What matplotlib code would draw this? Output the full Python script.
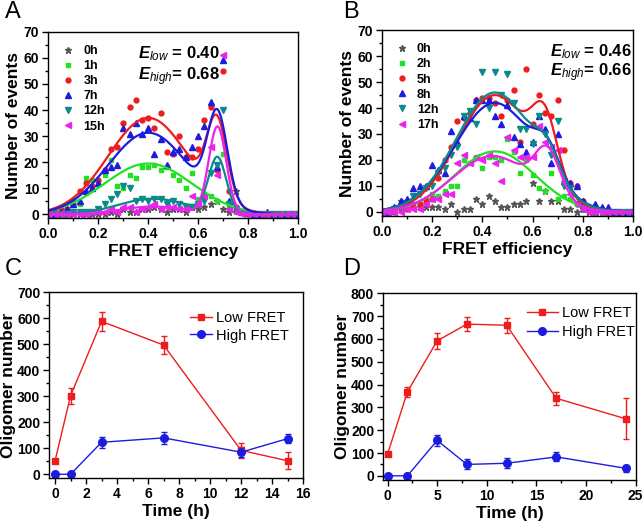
import numpy as np
import matplotlib
matplotlib.use('Agg')
import matplotlib.pyplot as plt
from matplotlib.ticker import MultipleLocator

plt.rcParams['font.family'] = ['Liberation Sans', 'DejaVu Sans']
plt.rcParams['mathtext.fontset'] = 'custom'
plt.rcParams['mathtext.rm'] = 'Liberation Sans:bold'
plt.rcParams['mathtext.it'] = 'Liberation Sans:italic'
plt.rcParams['mathtext.bf'] = 'Liberation Sans:bold'
plt.rcParams['mathtext.bfit'] = 'Liberation Sans:bold:italic'

# FRET histogram bins (0 to 1 in steps of 0.025)
fret_bins = np.linspace(0, 1, 41)

# ---- panel A : counts per bin ----
a_labels = ['0h', '1h', '3h', '7h', '12h', '15h']
a_0h = [0, 0, 0, 0, 0, 0, 0, 0, 0, 0, 1, 0, 2, 1, 1, 2, 2, 3, 2, 1, 2, 2, 1, 3, 2, 3, 4, 5, 2, 1, 9, 1, 1, 0, 0, 0, 0, 0, 0, 0, 0]
a_1h = [0, 0, 1, 2, 5, 4, 14, 13, 12, 15, 21, 11, 10, 15, 14, 18, 18, 19, 17, 18, 15, 13, 10, 16, 6, 8, 7, 5, 23, 3, 1, 1, 0, 0, 0, 0, 0, 0, 0, 0, 0]
a_3h = [1, 1, 2, 2, 4, 9, 12, 11, 13, 17, 25, 26, 35, 41, 44, 36, 37, 33, 39, 24, 23, 30, 22, 22, 25, 36, 41, 17, 55, 9, 3, 1, 0, 0, 0, 0, 0, 0, 0, 0, 0]
a_7h = [0, 0, 1, 2, 4, 5, 9, 10, 12, 17, 18, 19, 33, 31, 35, 31, 33, 23, 29, 19, 24, 25, 22, 26, 30, 34, 43, 18, 59, 5, 2, 1, 1, 0, 0, 1, 0, 0, 0, 0, 0]
a_12h = [0, 0, 0, 0, 1, 1, 1, 1, 2, 4, 6, 8, 11, 10, 5, 6, 5, 6, 6, 4, 5, 4, 3, 3, 4, 5, 16, 19, 40, 4, 2, 1, 0, 0, 0, 0, 0, 0, 0, 0, 0]
a_15h = [0, 0, 0, 0, 0, 0, 0, 1, 1, 1, 2, 1, 3, 3, 1, 2, 3, 4, 2, 3, 3, 2, 2, 7, 4, 7, 26, 15, 61, 2, 1, 0, 0, 0, 0, 0, 0, 0, 0, 0, 0]
# double-Gaussian fit parameters (amp, centre, width) for low and high FRET
a_low_amp = [None, 19.5, 37.0, 31.3, 6.0, 3.0]
a_low_cen = [None, 0.40, 0.40, 0.40, 0.42, 0.42]
a_low_wid = [None, 0.175, 0.16, 0.16, 0.14, 0.13]
a_high_amp = [None, 0.0, 29.6, 33.3, 21.0, 33.3]
a_high_cen = [None, 0.675, 0.675, 0.677, 0.677, 0.677]
a_high_wid = [None, 0.04, 0.04, 0.04, 0.035, 0.035]

# ---- panel B ----
b_labels = ['0h', '2h', '5h', '8h', '12h', '17h']
b_0h = [0, 0, 1, 4, 4, 3, 2, 2, 2, 2, 1, 3, 0, 1, 1, 5, 3, 6, 4, 2, 2, 3, 3, 4, 11, 4, 8, 4, 4, 1, 1, 0, 1, 0, 0, 0, 0, 0, 0, 0, 0]
b_2h = [0, 0, 0, 1, 1, 2, 3, 5, 7, 6, 8, 10, 10, 20, 19, 21, 17, 21, 21, 20, 28, 23, 15, 20, 14, 9, 8, 15, 5, 6, 5, 3, 2, 1, 0, 0, 0, 0, 0, 0, 0]
b_5h = [0, 0, 0, 1, 1, 2, 3, 4, 5, 13, 20, 25, 35, 36, 38, 43, 44, 44, 42, 37, 43, 47, 27, 55, 34, 45, 38, 37, 43, 24, 11, 10, 4, 2, 2, 1, 0, 0, 0, 0, 0]
b_8h = [0, 0, 2, 4, 5, 9, 10, 10, 18, 16, 15, 31, 27, 37, 36, 43, 43, 43, 37, 34, 41, 29, 26, 23, 27, 37, 32, 19, 30, 12, 11, 10, 4, 2, 3, 2, 2, 0, 0, 0, 0]
b_12h = [0, 0, 1, 2, 3, 6, 7, 9, 10, 15, 17, 22, 25, 37, 39, 34, 54, 40, 54, 45, 53, 42, 32, 32, 26, 37, 30, 22, 35, 10, 9, 3, 1, 1, 0, 0, 0, 0, 0, 0, 0]
b_17h = [0, 0, 0, 0, 1, 1, 1, 3, 5, 5, 7, 7, 19, 22, 19, 21, 20, 22, 19, 12, 29, 24, 21, 21, 21, 33, 27, 25, 24, 12, 7, 3, 1, 0, 0, 0, 0, 0, 0, 0, 0]
b_low_amp = [None, 23.3, 45.0, 42.0, 46.0, 21.5]
b_low_cen = [None, 0.45, 0.45, 0.45, 0.45, 0.44]
b_low_wid = [None, 0.16, 0.15, 0.16, 0.155, 0.16]
b_high_amp = [None, 0.0, 22.5, 11.0, 10.0, 16.8]
b_high_cen = [None, 0.65, 0.65, 0.66, 0.66, 0.66]
b_high_wid = [None, 0.05, 0.05, 0.05, 0.05, 0.05]

# ---- panel C / D : oligomer numbers ----
c_time = [0, 1, 3, 7, 12, 15]
c_low = [52, 302, 588, 497, 92, 52]
c_low_err = [8, 30, 38, 35, 30, 32]
c_high = [0, 0, 123, 140, 85, 137]
c_high_err = [5, 5, 22, 22, 20, 18]

d_time = [0, 2, 5, 8, 12, 17, 24]
d_low = [95, 368, 592, 665, 660, 340, 250]
d_low_err = [8, 22, 35, 32, 32, 28, 90]
d_high = [0, 0, 155, 50, 55, 83, 33]
d_high_err = [5, 5, 25, 22, 22, 20, 15]

colors = ['#555555', '#22e022', '#ee1c1c', '#1c1ce0', '#0a8a8a', '#ee22ee']
markers = ['*', 's', 'o', '^', 'v', '<']
msizes = [4.5, 3.5, 3.5, 3.8, 3.8, 3.8]

fig = plt.figure(figsize=(6.44, 5.21), dpi=100)
axA = fig.add_axes([0.075, 0.581, 0.388, 0.358])
axB = fig.add_axes([0.593, 0.585, 0.390, 0.357])
axC = fig.add_axes([0.0766, 0.082, 0.394, 0.357])
axD = fig.add_axes([0.595, 0.079, 0.392, 0.358])


def gauss(x, a, c, w):
    return a * np.exp(-(x - c) ** 2 / (2 * w ** 2))


def style(ax):
    ax.tick_params(which='both', direction='out', top=False, right=False,
                   labelsize=10, width=1, pad=2.5)
    ax.tick_params(which='major', length=4)
    ax.tick_params(which='minor', length=2)
    for s in ax.spines.values():
        s.set_linewidth(1)
    for lab in ax.get_xticklabels() + ax.get_yticklabels():
        lab.set_fontweight('bold')


def hist_panel(ax, series, labels, low_a, low_c, low_w, hi_a, hi_c, hi_w, ymin):
    xf = np.linspace(0, 1, 400)
    handles = []
    for i, ys in enumerate(series):
        h, = ax.plot(fret_bins, ys, linestyle='none', marker=markers[i],
                     ms=msizes[i], color=colors[i], mec=colors[i])
        handles.append(h)
    for i in range(1, len(series)):
        yf = gauss(xf, low_a[i], low_c[i], low_w[i]) + gauss(xf, hi_a[i], hi_c[i], hi_w[i])
        ax.plot(xf, yf, color=colors[i], lw=1.6)
    ax.set_ylim(ymin, 70)
    ax.set_xticks([0.0, 0.2, 0.4, 0.6, 0.8, 1.0])
    ax.set_xticklabels(['0.0', '0.2', '0.4', '0.6', '0.8', '1.0'])
    ax.xaxis.set_minor_locator(MultipleLocator(0.1))
    ax.set_xlim(0, 1)
    ax.yaxis.set_major_locator(MultipleLocator(10))
    ax.yaxis.set_minor_locator(MultipleLocator(5))
    ax.set_xlabel('FRET efficiency', fontsize=12.5, fontweight='bold', labelpad=2)
    ax.set_ylabel('Number of events', fontsize=12.5, fontweight='bold', labelpad=2)
    ax.legend(handles, labels, loc='upper left', bbox_to_anchor=(0.02, 0.97),
              frameon=False, prop={'weight': 'bold', 'size': 9},
              labelspacing=0.25, handletextpad=0.6, handlelength=1.2,
              borderaxespad=0.2)
    style(ax)


hist_panel(axA, [a_0h, a_1h, a_3h, a_7h, a_12h, a_15h], a_labels,
           a_low_amp, a_low_cen, a_low_wid, a_high_amp, a_high_cen, a_high_wid, -1.5)
axA.text(0.36, 0.86, r'$\mathbfit{E}_{low}$ = 0.40', transform=axA.transAxes,
         fontsize=12, fontweight='bold')
axA.text(0.36, 0.74, r'$\mathbfit{E}_{high}$= 0.68', transform=axA.transAxes,
         fontsize=12, fontweight='bold')

hist_panel(axB, [b_0h, b_2h, b_5h, b_8h, b_12h, b_17h], b_labels,
           b_low_amp, b_low_cen, b_low_wid, b_high_amp, b_high_cen, b_high_wid, -1.7)
axB.text(0.67, 0.86, r'$\mathbfit{E}_{low}$ = 0.46', transform=axB.transAxes,
         fontsize=12, fontweight='bold')
axB.text(0.67, 0.75, r'$\mathbfit{E}_{high}$= 0.66', transform=axB.transAxes,
         fontsize=12, fontweight='bold')


def time_panel(ax, t, low, low_e, high, high_e, xmax, xmaj, xmin_, ymax):
    e1 = ax.errorbar(t, low, yerr=low_e, color='#ee1c1c', marker='s', ms=5, lw=1,
                     capsize=2.5, elinewidth=1)
    e2 = ax.errorbar(t, high, yerr=high_e, color='#1c1ce0', marker='o', ms=5.5, lw=1,
                     capsize=2.5, elinewidth=1)
    ax.set_xlim(xmin_, xmax)
    ax.set_ylim(-ymax * 0.022, ymax)
    ax.xaxis.set_major_locator(MultipleLocator(xmaj))
    ax.xaxis.set_minor_locator(MultipleLocator(xmaj / 2))
    ax.yaxis.set_major_locator(MultipleLocator(100))
    ax.yaxis.set_minor_locator(MultipleLocator(50))
    ax.set_xlabel('Time (h)', fontsize=12.5, fontweight='bold', labelpad=2)
    ax.set_ylabel('Oligomer number', fontsize=12.5, fontweight='bold', labelpad=1)
    style(ax)
    return [e1[0], e2[0]]


hc = time_panel(axC, c_time, c_low, c_low_err, c_high, c_high_err, 16, 2, -0.37, 700)
axC.legend(hc, ['Low FRET', 'High FRET'], loc='upper left', bbox_to_anchor=(0.555, 0.9),
           frameon=False, fontsize=10.5, handlelength=1.5, handletextpad=0.3,
           labelspacing=0.25, borderpad=0, borderaxespad=0)
hd = time_panel(axD, d_time, d_low, d_low_err, d_high, d_high_err, 25, 5, -0.44, 800)
axD.legend(hd, ['Low FRET', 'High FRET'], loc='upper left', bbox_to_anchor=(0.57, 0.93),
           frameon=False, fontsize=10.5, handlelength=2.1, handletextpad=0.3,
           labelspacing=0.35, borderpad=0, borderaxespad=0)

for lab, x, y in [('A', 0.008, 0.998), ('B', 0.533, 0.998), ('C', 0.008, 0.505), ('D', 0.533, 0.505)]:
    fig.text(x, y, lab, fontsize=17, va='top', ha='left')

fig.savefig('out.png', dpi=100)
